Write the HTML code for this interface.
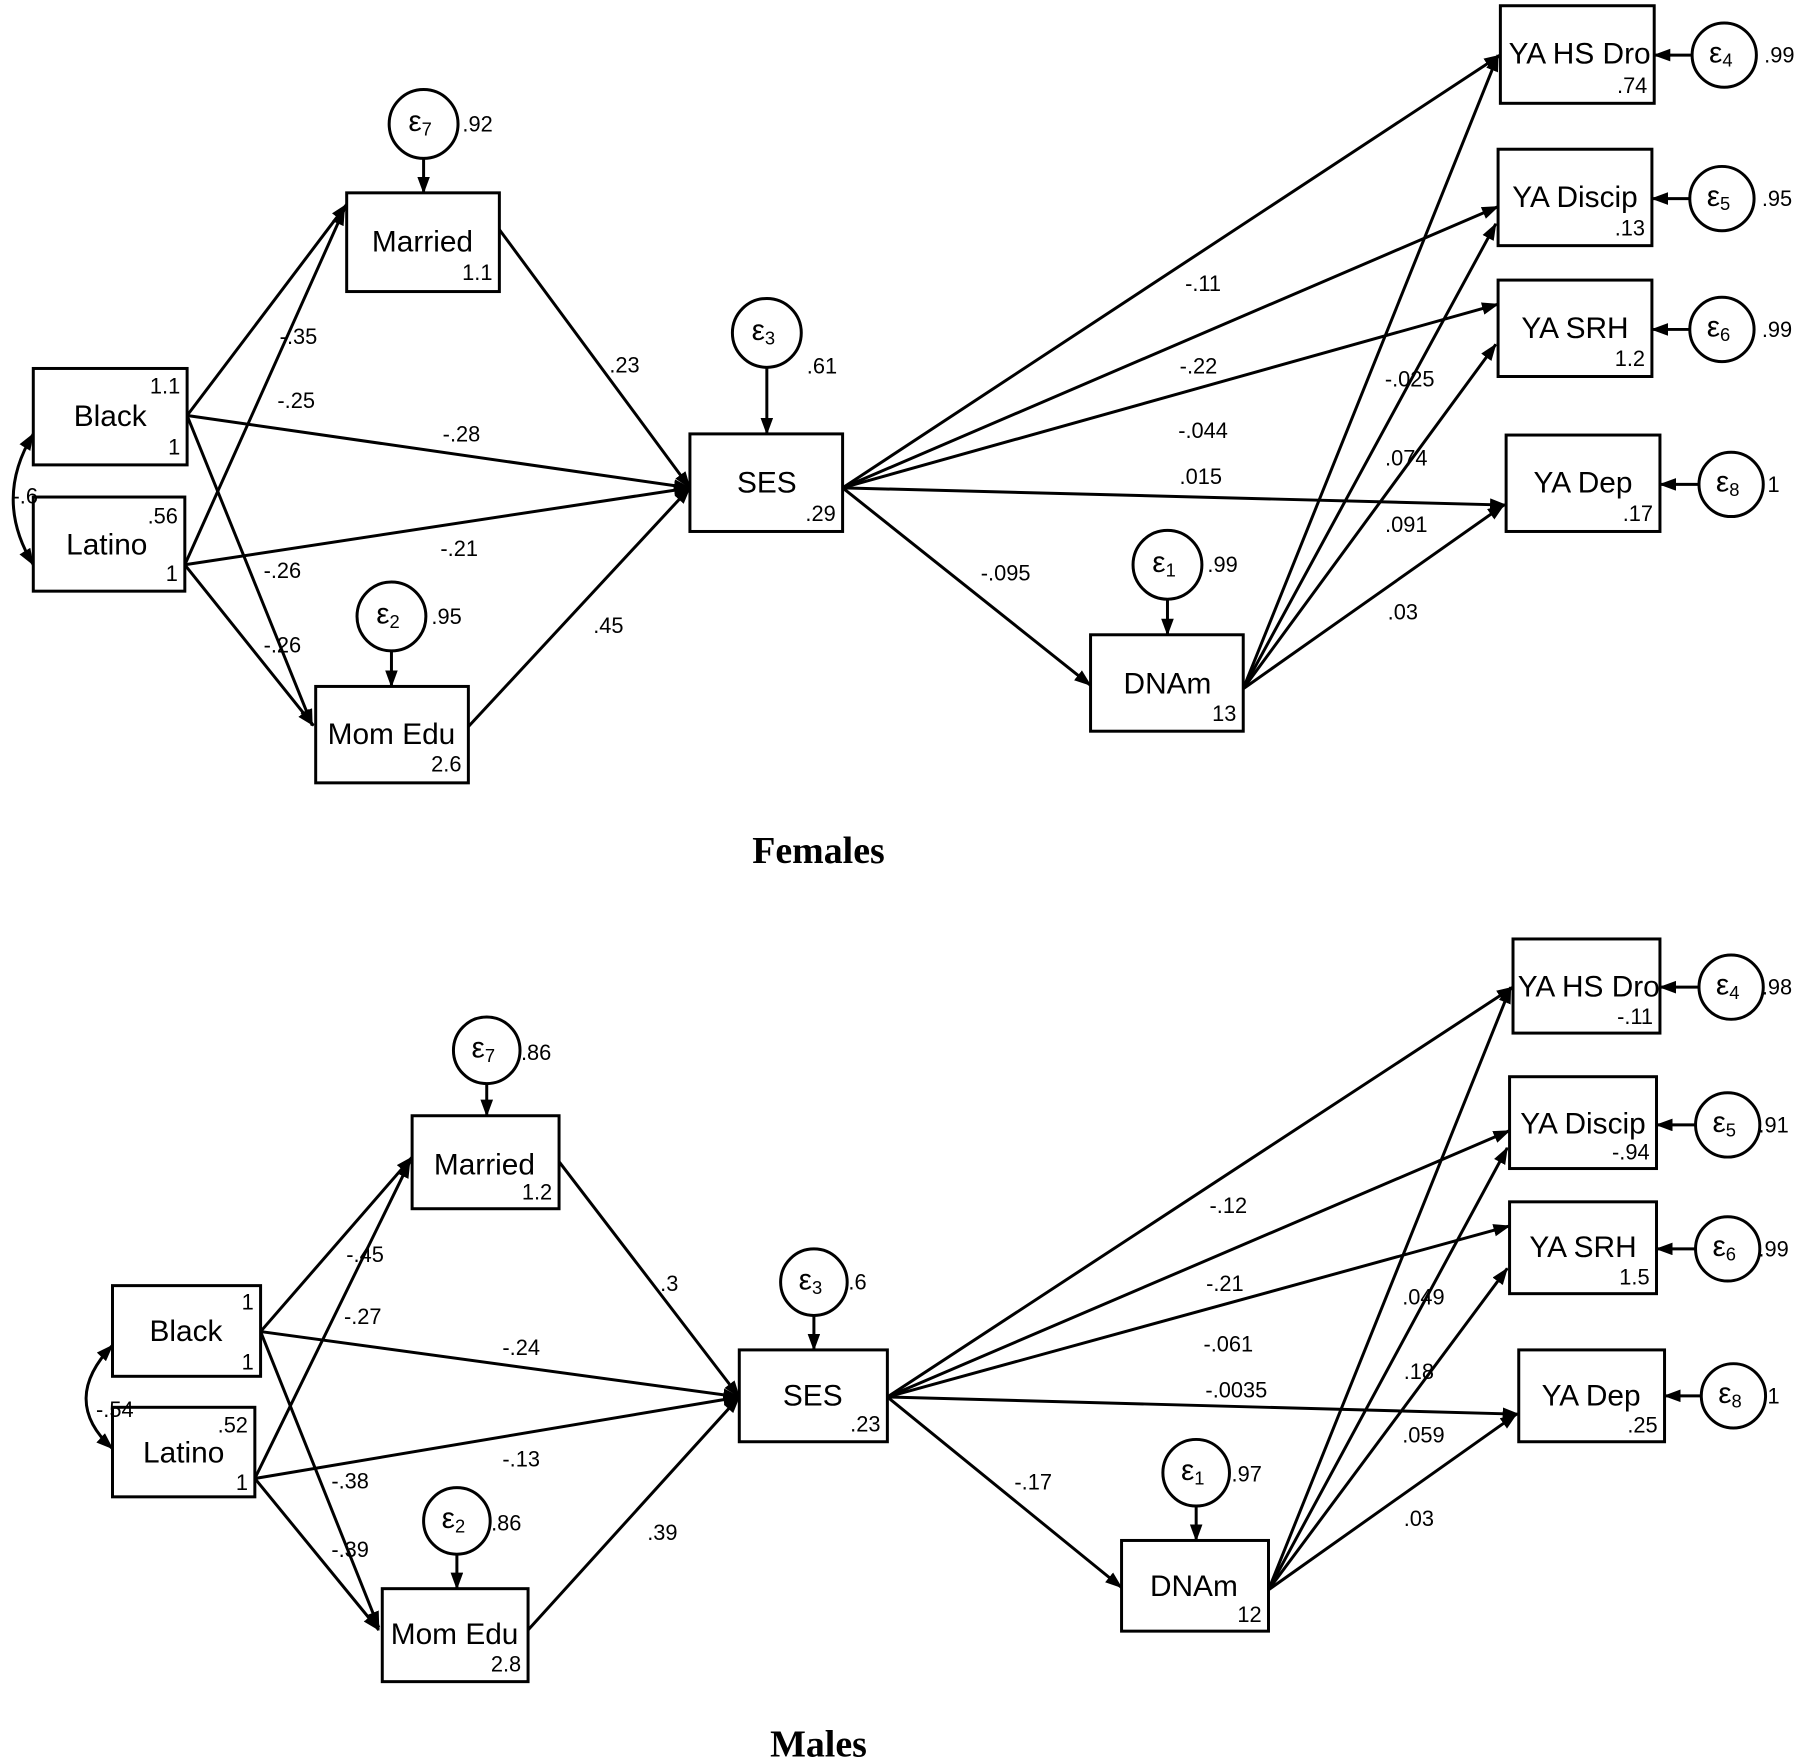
<!DOCTYPE html>
<html><head><meta charset="utf-8"><style>
html,body{margin:0;padding:0;background:#fff;}
svg{display:block;}
text{font-family:"Liberation Sans",Arial,sans-serif;fill:#000;}
.n{font-size:19px;text-anchor:middle;dominant-baseline:central;}
.b{font-size:19px;text-anchor:end;}
.l{font-size:26px;text-anchor:middle;dominant-baseline:central;}
.e{font-size:26px;text-anchor:middle;dominant-baseline:central;}
.t{font-family:"Liberation Serif",serif;font-weight:bold;font-size:33px;text-anchor:middle;}
line,path.c{stroke:#000;stroke-width:2.6;fill:none;}
rect,circle{stroke:#000;stroke-width:2.6;fill:#fff;}
</style></head><body>
<svg width="1800" height="1762" viewBox="0 0 1568 1535" preserveAspectRatio="none" xmlns="http://www.w3.org/2000/svg">
<defs><marker id="a" markerUnits="userSpaceOnUse" markerWidth="16" markerHeight="12" refX="14" refY="5.5" orient="auto-start-reverse"><path d="M0,0 L15,5.5 L0,11 z" fill="#000"/></marker></defs>
<g marker-end="url(#a)">
<line x1="163" y1="362" x2="302" y2="178"/>
<line x1="163" y1="362" x2="601" y2="425"/>
<line x1="163" y1="362" x2="272" y2="632"/>
<line x1="161" y1="492" x2="300" y2="182"/>
<line x1="161" y1="492" x2="601" y2="425"/>
<line x1="161" y1="492" x2="273" y2="632"/>
<line x1="435" y1="200" x2="601" y2="425"/>
<line x1="408" y1="633" x2="601" y2="425"/>
<line x1="734" y1="425" x2="1307" y2="48"/>
<line x1="734" y1="425" x2="1305" y2="180"/>
<line x1="734" y1="425" x2="1305" y2="265"/>
<line x1="734" y1="425" x2="1312" y2="440"/>
<line x1="734" y1="425" x2="950" y2="597"/>
<line x1="1083" y1="600" x2="1305" y2="48"/>
<line x1="1083" y1="600" x2="1303" y2="195"/>
<line x1="1083" y1="600" x2="1303" y2="300"/>
<line x1="1083" y1="600" x2="1310" y2="440"/>
<line x1="369" y1="138" x2="369" y2="168"/>
<line x1="668" y1="320" x2="668" y2="378"/>
<line x1="341" y1="567" x2="341" y2="598"/>
<line x1="1017" y1="522" x2="1017" y2="553"/>
<line x1="1474" y1="48" x2="1441" y2="48"/>
<line x1="1472" y1="173" x2="1439" y2="173"/>
<line x1="1472" y1="287" x2="1439" y2="287"/>
<line x1="1480" y1="422" x2="1446" y2="422"/>
<path class="c" d="M29,378 Q-6,435 29,492" marker-start="url(#a)"/>
<line x1="227" y1="1160" x2="359" y2="1008"/>
<line x1="227" y1="1160" x2="644" y2="1217"/>
<line x1="227" y1="1160" x2="330" y2="1418"/>
<line x1="222" y1="1288" x2="357" y2="1012"/>
<line x1="222" y1="1288" x2="644" y2="1217"/>
<line x1="222" y1="1288" x2="330" y2="1420"/>
<line x1="487" y1="1012" x2="644" y2="1217"/>
<line x1="460" y1="1420" x2="644" y2="1217"/>
<line x1="773" y1="1217" x2="1318" y2="860"/>
<line x1="773" y1="1217" x2="1315" y2="985"/>
<line x1="773" y1="1217" x2="1315" y2="1068"/>
<line x1="773" y1="1217" x2="1323" y2="1232"/>
<line x1="773" y1="1217" x2="977" y2="1383"/>
<line x1="1105" y1="1385" x2="1316" y2="860"/>
<line x1="1105" y1="1385" x2="1313" y2="1000"/>
<line x1="1105" y1="1385" x2="1313" y2="1105"/>
<line x1="1105" y1="1385" x2="1321" y2="1232"/>
<line x1="424" y1="945" x2="424" y2="972"/>
<line x1="709" y1="1147" x2="709" y2="1176"/>
<line x1="398" y1="1355" x2="398" y2="1384"/>
<line x1="1042" y1="1313" x2="1042" y2="1342"/>
<line x1="1480" y1="860" x2="1446" y2="860"/>
<line x1="1477" y1="980" x2="1443" y2="980"/>
<line x1="1477" y1="1088" x2="1443" y2="1088"/>
<line x1="1482" y1="1216" x2="1450" y2="1216"/>
<path class="c" d="M98,1172 Q52,1220 98,1262" marker-start="url(#a)"/>
</g>
<rect x="29" y="321" width="134" height="84"/><text class="l" x="96" y="363">Black</text><text class="b" x="157" y="343">1.1</text><text class="b" x="157" y="396">1</text>
<rect x="29" y="433" width="132" height="82"/><text class="l" x="93" y="475">Latino</text><text class="b" x="155" y="456">.56</text><text class="b" x="155" y="506">1</text>
<rect x="302" y="168" width="133" height="86"/><text class="l" x="368" y="211">Married</text><text class="b" x="429" y="244">1.1</text>
<rect x="275" y="598" width="133" height="84"/><text class="l" x="341" y="640">Mom Edu</text><text class="b" x="402" y="672">2.6</text>
<rect x="601" y="378" width="133" height="85"/><text class="l" x="668" y="421">SES</text><text class="b" x="728" y="454">.29</text>
<rect x="950" y="553" width="133" height="84"/><text class="l" x="1017" y="596">DNAm</text><text class="b" x="1077" y="628">13</text>
<rect x="1307" y="5" width="134" height="85"/><text class="l" x="1376" y="47">YA HS Dro</text><text class="b" x="1435" y="81">.74</text>
<rect x="1305" y="130" width="134" height="84"/><text class="l" x="1372" y="172">YA Discip</text><text class="b" x="1433" y="205">.13</text>
<rect x="1305" y="244" width="134" height="84"/><text class="l" x="1372" y="286">YA SRH</text><text class="b" x="1433" y="319">1.2</text>
<rect x="1312" y="379" width="134" height="84"/><text class="l" x="1379" y="421">YA Dep</text><text class="b" x="1440" y="454">.17</text>
<circle cx="369" cy="108" r="30"/><text class="e" x="366" y="106">ε<tspan font-size="16" dy="6">7</tspan></text><text class="n" x="416" y="108">.92</text>
<circle cx="668" cy="290" r="30"/><text class="e" x="665" y="288">ε<tspan font-size="16" dy="6">3</tspan></text><text class="n" x="716" y="319">.61</text>
<circle cx="341" cy="537" r="30"/><text class="e" x="338" y="535">ε<tspan font-size="16" dy="6">2</tspan></text><text class="n" x="389" y="537">.95</text>
<circle cx="1017" cy="492" r="30"/><text class="e" x="1014" y="490">ε<tspan font-size="16" dy="6">1</tspan></text><text class="n" x="1065" y="492">.99</text>
<circle cx="1502" cy="48" r="28"/><text class="e" x="1499" y="46">ε<tspan font-size="16" dy="6">4</tspan></text><text class="n" x="1550" y="48">.99</text>
<circle cx="1500" cy="173" r="28"/><text class="e" x="1497" y="171">ε<tspan font-size="16" dy="6">5</tspan></text><text class="n" x="1548" y="173">.95</text>
<circle cx="1500" cy="287" r="28"/><text class="e" x="1497" y="285">ε<tspan font-size="16" dy="6">6</tspan></text><text class="n" x="1548" y="287">.99</text>
<circle cx="1508" cy="422" r="28"/><text class="e" x="1505" y="420">ε<tspan font-size="16" dy="6">8</tspan></text><text class="n" x="1545" y="422">1</text>
<text class="n" x="260" y="293">-.35</text><text class="n" x="258" y="349">-.25</text><text class="n" x="402" y="378">-.28</text><text class="n" x="400" y="478">-.21</text>
<text class="n" x="246" y="497">-.26</text><text class="n" x="246" y="562">-.26</text><text class="n" x="544" y="318">.23</text><text class="n" x="530" y="545">.45</text>
<text class="n" x="1048" y="247">-.11</text><text class="n" x="1044" y="319">-.22</text><text class="n" x="1048" y="375">-.044</text><text class="n" x="1046" y="415">.015</text>
<text class="n" x="876" y="499">-.095</text><text class="n" x="1228" y="330">-.025</text><text class="n" x="1225" y="399">.074</text><text class="n" x="1225" y="457">.091</text><text class="n" x="1222" y="533">.03</text>
<text class="n" x="22" y="432">-.6</text>
<text class="t" x="713" y="752">Females</text>
<rect x="98" y="1120" width="129" height="79"/><text class="l" x="162" y="1160">Black</text><text class="b" x="221" y="1141">1</text><text class="b" x="221" y="1193">1</text>
<rect x="98" y="1226" width="124" height="78"/><text class="l" x="160" y="1266">Latino</text><text class="b" x="216" y="1248">.52</text><text class="b" x="216" y="1298">1</text>
<rect x="359" y="972" width="128" height="81"/><text class="l" x="422" y="1015">Married</text><text class="b" x="481" y="1045">1.2</text>
<rect x="333" y="1384" width="127" height="81"/><text class="l" x="396" y="1424">Mom Edu</text><text class="b" x="454" y="1456">2.8</text>
<rect x="644" y="1176" width="129" height="80"/><text class="l" x="708" y="1216">SES</text><text class="b" x="767" y="1247">.23</text>
<rect x="977" y="1342" width="128" height="79"/><text class="l" x="1040" y="1382">DNAm</text><text class="b" x="1099" y="1413">12</text>
<rect x="1318" y="818" width="128" height="82"/><text class="l" x="1384" y="860">YA HS Dro</text><text class="b" x="1440" y="892">-.11</text>
<rect x="1315" y="938" width="128" height="80"/><text class="l" x="1379" y="979">YA Discip</text><text class="b" x="1437" y="1010">-.94</text>
<rect x="1315" y="1047" width="128" height="80"/><text class="l" x="1379" y="1087">YA SRH</text><text class="b" x="1437" y="1119">1.5</text>
<rect x="1323" y="1176" width="127" height="80"/><text class="l" x="1386" y="1216">YA Dep</text><text class="b" x="1444" y="1248">.25</text>
<circle cx="424" cy="915" r="29"/><text class="e" x="421" y="913">ε<tspan font-size="16" dy="6">7</tspan></text><text class="n" x="467" y="917">.86</text>
<circle cx="709" cy="1117" r="29"/><text class="e" x="706" y="1115">ε<tspan font-size="16" dy="6">3</tspan></text><text class="n" x="747" y="1117">.6</text>
<circle cx="398" cy="1325" r="29"/><text class="e" x="395" y="1323">ε<tspan font-size="16" dy="6">2</tspan></text><text class="n" x="441" y="1327">.86</text>
<circle cx="1042" cy="1283" r="29"/><text class="e" x="1039" y="1281">ε<tspan font-size="16" dy="6">1</tspan></text><text class="n" x="1086" y="1284">.97</text>
<circle cx="1508" cy="860" r="28"/><text class="e" x="1505" y="858">ε<tspan font-size="16" dy="6">4</tspan></text><text class="n" x="1548" y="860">.98</text>
<circle cx="1505" cy="980" r="28"/><text class="e" x="1502" y="978">ε<tspan font-size="16" dy="6">5</tspan></text><text class="n" x="1545" y="980">.91</text>
<circle cx="1505" cy="1088" r="28"/><text class="e" x="1502" y="1086">ε<tspan font-size="16" dy="6">6</tspan></text><text class="n" x="1545" y="1088">.99</text>
<circle cx="1510" cy="1216" r="28"/><text class="e" x="1507" y="1214">ε<tspan font-size="16" dy="6">8</tspan></text><text class="n" x="1545" y="1216">1</text>
<text class="n" x="318" y="1093">-.45</text><text class="n" x="316" y="1147">-.27</text><text class="n" x="454" y="1174">-.24</text><text class="n" x="454" y="1271">-.13</text>
<text class="n" x="305" y="1290">-.38</text><text class="n" x="305" y="1350">-.39</text><text class="n" x="583" y="1118">.3</text><text class="n" x="577" y="1335">.39</text>
<text class="n" x="1070" y="1050">-.12</text><text class="n" x="1067" y="1118">-.21</text><text class="n" x="1070" y="1171">-.061</text><text class="n" x="1077" y="1211">-.0035</text>
<text class="n" x="900" y="1291">-.17</text><text class="n" x="1240" y="1130">.049</text><text class="n" x="1236" y="1195">.18</text><text class="n" x="1240" y="1250">.059</text><text class="n" x="1236" y="1323">.03</text>
<text class="n" x="100" y="1228">-.54</text>
<text class="t" x="713" y="1530">Males</text>
</svg>
</body></html>
